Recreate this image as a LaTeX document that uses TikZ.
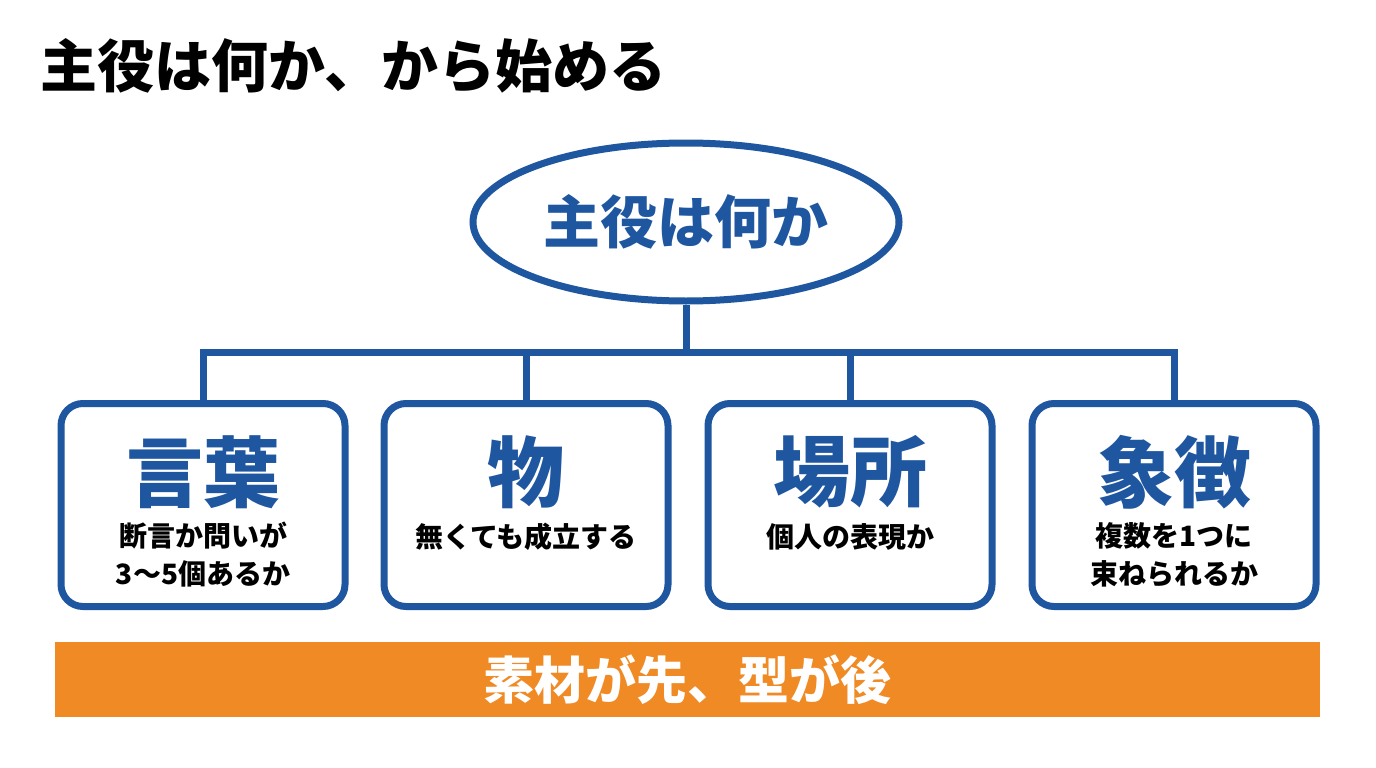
\documentclass[tikz,border=0pt]{standalone}
\usepackage{fontspec}
\newfontfamily\cjk{Noto Sans CJK JP}
\usetikzlibrary{shapes.geometric}
\definecolor{bl}{HTML}{1F56A0}
\definecolor{or}{HTML}{F08A24}
\begin{document}
\begin{tikzpicture}[x=1pt,y=-1pt,
  box/.style={draw=bl,line width=7pt,rounded corners=22pt,minimum width=284pt,minimum height=203pt},
  big/.style={text=bl,font=\cjk\bfseries\fontsize{77}{80}\selectfont},
  sub/.style={align=center,font=\cjk\bfseries\fontsize{28}{38}\selectfont},
  ln/.style={draw=bl,line width=7pt}]
\useasboundingbox (0,0) rectangle (1376,768);
\fill[white] (0,0) rectangle (1376,768);
\node[anchor=west,font=\cjk\bfseries\fontsize{57}{60}\selectfont,inner sep=0pt] (title) at (40,66) {主役は何か、から始める};
\node[ellipse,draw=bl,line width=7pt,minimum width=426pt,minimum height=158pt,text=bl,font=\cjk\bfseries\fontsize{57}{60}\selectfont] (root) at (686,222) {主役は何か};
\node[box] (b1) at (203,505) {};
\node[box] (b2) at (526,505) {};
\node[box] (b3) at (850,505) {};
\node[box] (b4) at (1174,505) {};
\coordinate (h) at (686,352);
\draw[ln] (root.south) -- (h);
\draw[ln,line cap=rect] (b1.north |- h) -- (b4.north |- h);
\foreach \b in {b1,b2,b3,b4}{\draw[ln] (\b.north |- h) -- (\b.north);}
\node[big] (t1) at (203,472) {言葉};
\node[big] (t2) at (526,472) {物};
\node[big] (t3) at (850,472) {場所};
\node[big] (t4) at (1174,472) {象徴};
\node[sub] (s1) at (203,555) {断言か問いが\\3〜5個あるか};
\node[sub] (s2) at (526,537) {無くても成立する};
\node[sub] (s3) at (850,537) {個人の表現か};
\node[sub] (s4) at (1174,555) {複数を1つに\\束ねられるか};
\node[fill=or,minimum width=1265pt,minimum height=75pt,text=white,font=\cjk\bfseries\fontsize{51}{54}\selectfont] (bar) at (687.5,679.5) {素材が先、型が後};
\end{tikzpicture}
\end{document}
